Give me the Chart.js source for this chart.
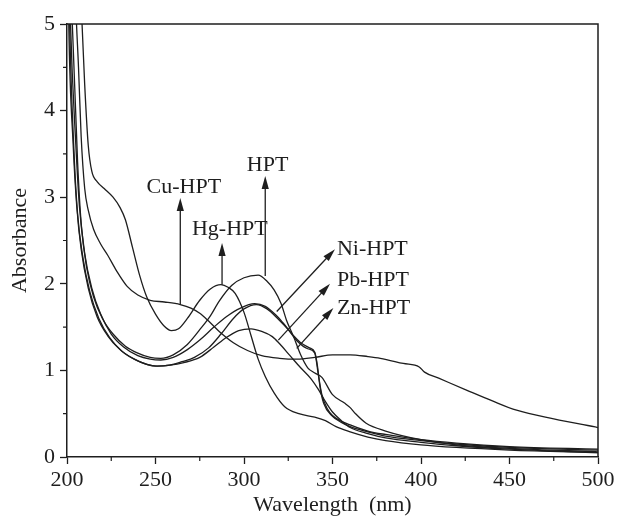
<!DOCTYPE html>
<html>
<head>
<meta charset="utf-8">
<script src="https://cdn.jsdelivr.net/npm/chart.js@4.4.0/dist/chart.umd.min.js"></script>
<style>
  html, body { margin: 0; padding: 0; background: #fff; }
</style>
</head>
<body>
<canvas id="uvChart" width="619" height="519"></canvas>
<script>
// UV-vis spectra, wavelength (nm) and absorbance
const hptWl  = [200, 203, 206, 208, 211, 215, 220, 226, 233, 240, 247, 253, 260, 268, 275, 281, 286, 293, 300, 308, 313, 317, 321, 324, 328, 332, 336, 340, 344, 350, 357, 360, 363, 369, 380, 400, 420, 450, 500];
const hptAbs = [7.0, 5.0, 3.4, 2.7, 2.2, 1.85, 1.6, 1.42, 1.28, 1.2, 1.15, 1.14, 1.18, 1.3, 1.47, 1.63, 1.8, 1.98, 2.07, 2.1, 2.03, 1.93, 1.77, 1.58, 1.39, 1.18, 1.03, 0.97, 0.92, 0.72, 0.62, 0.57, 0.5, 0.39, 0.3, 0.2, 0.14, 0.1, 0.06];

const cuWl  = [200, 205, 206.5, 208, 210, 212, 215, 219, 223, 228, 234, 240, 247, 255, 264, 270, 275, 280, 286, 294, 302, 310, 320, 330, 340, 350, 360, 370, 377, 390, 399, 402, 410, 426, 440, 454, 475, 500];
const cuAbs = [9.0, 5.2, 4.5, 3.7, 3.1, 2.85, 2.63, 2.46, 2.33, 2.15, 1.97, 1.87, 1.81, 1.79, 1.76, 1.72, 1.66, 1.57, 1.45, 1.32, 1.23, 1.17, 1.14, 1.13, 1.15, 1.18, 1.18, 1.16, 1.14, 1.08, 1.04, 0.98, 0.91, 0.77, 0.65, 0.54, 0.44, 0.34];

const hgWl  = [200, 206, 208.5, 210, 212, 214, 217, 221, 226, 230, 233, 237, 241, 245, 250, 255, 259, 263, 268, 275, 281, 287, 291, 295, 300, 304, 308, 312, 317, 323, 331, 340, 346, 352, 360, 370, 380, 400, 420, 450, 500];
const hgAbs = [8.0, 6.0, 5.0, 4.3, 3.6, 3.3, 3.18, 3.1, 3.0, 2.88, 2.74, 2.42, 2.1, 1.85, 1.65, 1.51, 1.46, 1.48, 1.6, 1.81, 1.94, 1.99, 1.96, 1.89, 1.67, 1.4, 1.13, 0.93, 0.74, 0.58, 0.5, 0.46, 0.42, 0.35, 0.29, 0.23, 0.19, 0.14, 0.11, 0.08, 0.05];

const niWl  = [200, 202, 205, 207, 210, 214, 219, 225, 232, 240, 247, 253, 260, 268, 275, 283, 290, 298, 306, 312, 318, 322, 328, 332, 337, 340, 341.5, 343, 345, 350, 355, 360, 370, 380, 400, 420, 450, 500];
const niAbs = [7.0, 5.0, 3.6, 2.9, 2.35, 1.95, 1.65, 1.42, 1.27, 1.17, 1.13, 1.12, 1.15, 1.24, 1.35, 1.5, 1.62, 1.72, 1.77, 1.74, 1.64, 1.55, 1.4, 1.32, 1.26, 1.21, 1.05, 0.8, 0.62, 0.47, 0.4, 0.35, 0.29, 0.24, 0.19, 0.15, 0.11, 0.08];

const pbWl  = [200, 201, 203.5, 205.5, 208, 212, 217, 223, 230, 238, 245, 251, 258, 266, 275, 283, 290, 297, 304, 310, 316, 320, 326, 332, 338, 342, 346, 350, 355, 360, 370, 380, 400, 420, 450, 500];
const pbAbs = [6.8, 5.0, 3.6, 2.9, 2.4, 1.95, 1.62, 1.4, 1.24, 1.13, 1.07, 1.05, 1.06, 1.09, 1.15, 1.27, 1.38, 1.46, 1.48, 1.45, 1.39, 1.31, 1.17, 1.03, 0.9, 0.78, 0.64, 0.52, 0.42, 0.34, 0.27, 0.22, 0.17, 0.13, 0.09, 0.05];

const znWl  = [200, 201.5, 204, 206, 209, 213, 218, 224, 231, 240, 250, 258, 265, 272, 280, 287, 294, 300, 307, 313, 319, 325, 330, 336, 340, 342, 344, 347, 350, 360, 370, 380, 400, 420, 450, 500];
const znAbs = [7.0, 5.0, 3.5, 2.8, 2.3, 1.9, 1.6, 1.38, 1.22, 1.11, 1.05, 1.06, 1.1, 1.15, 1.26, 1.42, 1.6, 1.71, 1.76, 1.71, 1.6, 1.47, 1.34, 1.25, 1.2, 0.95, 0.72, 0.56, 0.48, 0.37, 0.3, 0.26, 0.2, 0.16, 0.12, 0.09];

const seriesNames = ['HPT', 'Cu-HPT', 'Hg-HPT', 'Ni-HPT', 'Pb-HPT', 'Zn-HPT'];
const seriesWl  = [hptWl, cuWl, hgWl, niWl, pbWl, znWl];
const seriesAbs = [hptAbs, cuAbs, hgAbs, niAbs, pbAbs, znAbs];

// arrow labels: from = point on the curve, to = arrow tip, at = text anchor (data units)
const arrowMarks = [
    { text: 'Cu-HPT', from: [264, 1.76], to: [264, 2.99], at: [266, 3.05], align: 'center' },
    { text: 'HPT', from: [312, 2.09], to: [312, 3.245], at: [313.3, 3.30], align: 'center' },
    { text: 'Hg-HPT', from: [287.6, 1.99], to: [287.6, 2.47], at: [292, 2.56], align: 'center' },
    { text: 'Ni-HPT', from: [318.5, 1.68], to: [351.4, 2.4], at: [352.5, 2.33], align: 'left' },
    { text: 'Pb-HPT', from: [319.4, 1.35], to: [348.6, 2.0], at: [352.5, 1.97], align: 'left' },
    { text: 'Zn-HPT', from: [329.8, 1.255], to: [350.5, 1.72], at: [352.5, 1.65], align: 'left' }
];

const ink = '#1e1e1e';
const serif = "'Liberation Serif', 'Times New Roman', serif";

const marksPlugin = {
    id: 'spectrumMarks',
    afterDraw(chart) {
        const { ctx, chartArea: area, scales: { x, y } } = chart;
        ctx.save();
        ctx.strokeStyle = ink;
        ctx.fillStyle = ink;

        // top and right edges of the frame
        ctx.lineWidth = 1.5;
        ctx.beginPath();
        ctx.moveTo(area.left, area.top);
        ctx.lineTo(area.right, area.top);
        ctx.lineTo(area.right, area.bottom);
        ctx.stroke();

        // minor ticks
        ctx.lineWidth = 1.2;
        ctx.beginPath();
        for (let v = 225; v < 500; v += 50) {
            const px = x.getPixelForValue(v);
            ctx.moveTo(px, area.bottom);
            ctx.lineTo(px, area.bottom + 4);
        }
        for (let v = 0.5; v < 5; v += 1) {
            const py = y.getPixelForValue(v);
            ctx.moveTo(area.left, py);
            ctx.lineTo(area.left - 4, py);
        }
        ctx.stroke();

        // arrows and their labels
        ctx.lineWidth = 1.3;
        ctx.font = '22px ' + serif;
        ctx.textBaseline = 'alphabetic';
        arrowMarks.forEach(m => {
            const x0 = x.getPixelForValue(m.from[0]);
            const y0 = y.getPixelForValue(m.from[1]);
            const x1 = x.getPixelForValue(m.to[0]);
            const y1 = y.getPixelForValue(m.to[1]);
            const ang = Math.atan2(y1 - y0, x1 - x0);
            const c = Math.cos(ang), s = Math.sin(ang);
            ctx.beginPath();
            ctx.moveTo(x0, y0);
            ctx.lineTo(x1 - 10 * c, y1 - 10 * s);
            ctx.stroke();
            ctx.beginPath();
            ctx.moveTo(x1, y1);
            ctx.lineTo(x1 - 13 * c + 3.6 * s, y1 - 13 * s - 3.6 * c);
            ctx.lineTo(x1 - 13 * c - 3.6 * s, y1 - 13 * s + 3.6 * c);
            ctx.closePath();
            ctx.fill();

            ctx.textAlign = m.align;
            ctx.fillText(m.text, x.getPixelForValue(m.at[0]), y.getPixelForValue(m.at[1]));
        });
        ctx.restore();
    }
};

const datasets = seriesNames.map((name, i) => ({
    label: name,
    data: seriesWl[i].map((wl, j) => ({ x: wl, y: seriesAbs[i][j] })),
    borderColor: ink,
    borderWidth: 1.3,
    pointRadius: 0,
    fill: false,
    cubicInterpolationMode: 'monotone'
}));

new Chart(document.getElementById('uvChart').getContext('2d'), {
    type: 'line',
    data: { datasets },
    options: {
        responsive: false,
        animation: false,
        devicePixelRatio: 1,
        layout: { padding: { top: 24, right: 21, left: 0, bottom: 0 } },
        plugins: {
            legend: { display: false },
            tooltip: { enabled: false }
        },
        scales: {
            x: {
                type: 'linear',
                min: 200,
                max: 500,
                ticks: { stepSize: 50, color: ink, padding: 3, maxRotation: 0, font: { family: serif, size: 22 } },
                grid: { drawOnChartArea: false, tickLength: 7, tickColor: ink, tickWidth: 1.3 },
                border: { color: ink, width: 1.5 },
                title: {
                    display: true,
                    text: 'Wavelength  (nm)',
                    color: ink,
                    font: { family: serif, size: 22, lineHeight: 1 },
                    padding: { top: 0, bottom: 2.5 }
                },
                afterFit(scale) { scale.height = 62; }
            },
            y: {
                min: 0,
                max: 5,
                ticks: { stepSize: 1, color: ink, padding: 5, font: { family: serif, size: 22 } },
                grid: { drawOnChartArea: false, tickLength: 7, tickColor: ink, tickWidth: 1.3 },
                border: { color: ink, width: 1.5 },
                title: {
                    display: true,
                    text: 'Absorbance',
                    color: ink,
                    font: { family: serif, size: 22, lineHeight: 1 },
                    padding: { top: 9.5, bottom: 0 }
                },
                afterFit(scale) { scale.width = 67; }
            }
        }
    },
    plugins: [marksPlugin]
});
</script>
</body>
</html>
